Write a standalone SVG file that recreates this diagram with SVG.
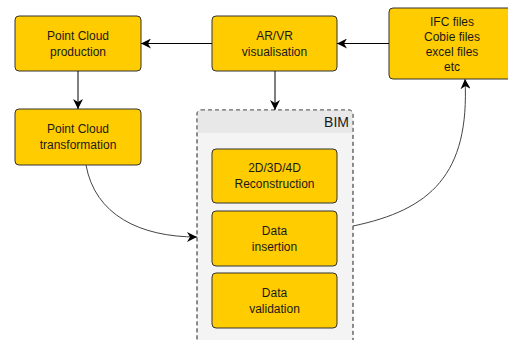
<svg xmlns="http://www.w3.org/2000/svg" width="508" height="340" viewBox="0 0 508 340">
<defs>
<style>
.box{fill:#ffcc00;stroke:#333333;stroke-width:1}
.t{font-family:"Liberation Sans",Arial,sans-serif;font-size:12px;fill:#1a1a1a;text-anchor:middle}
.c{fill:none;stroke:#000000;stroke-width:1}
.cg{fill:none;stroke:#444444;stroke-width:1}
</style>
<marker id="ah" viewBox="0 0 10 10" refX="10" refY="5" markerWidth="10" markerHeight="10" markerUnits="userSpaceOnUse" orient="auto">
<path d="M0,0 L10,5 L0,10 L3,5 Z" fill="#000"/>
</marker>
</defs>
<rect width="508" height="340" fill="#ffffff"/>
<g id="bim">
<rect x="197" y="110" width="156" height="240" rx="4" fill="#f4f4f4" stroke="#666666" stroke-dasharray="4 3"/>
<path d="M197.5,133 V114 a4,4 0 0 1 4,-4 H348.5 a4,4 0 0 1 4,4 V133 Z" fill="#e8e8e8"/>
<rect x="197" y="110" width="156" height="240" rx="4" fill="none" stroke="#666666" stroke-dasharray="4 3"/>
<text x="349" y="127" font-family="Liberation Sans,Arial,sans-serif" font-size="14" fill="#1a1a1a" text-anchor="end">BIM</text>
</g>
<g id="pc-production">
<rect class="box" x="15" y="16" width="126" height="55" rx="4"/>
<text class="t" x="78" y="40">Point Cloud</text>
<text class="t" x="78" y="56">production</text>
</g>
<g id="pc-transformation">
<rect class="box" x="15" y="109" width="126" height="56" rx="4"/>
<text class="t" x="78" y="133">Point Cloud</text>
<text class="t" x="78" y="149">transformation</text>
</g>
<g id="arvr">
<rect class="box" x="212" y="16" width="125" height="55" rx="4"/>
<text class="t" x="274.5" y="40">AR/VR</text>
<text class="t" x="274.5" y="56">visualisation</text>
</g>
<g id="ifc">
<rect class="box" x="389" y="8" width="126" height="71" rx="4"/>
<text class="t" x="452" y="26">IFC files</text>
<text class="t" x="452" y="41">Cobie files</text>
<text class="t" x="452" y="56">excel files</text>
<text class="t" x="452" y="71">etc</text>
</g>
<g id="reconstruction">
<rect class="box" x="212" y="149" width="125" height="54" rx="4"/>
<text class="t" x="274.5" y="172">2D/3D/4D</text>
<text class="t" x="274.5" y="188">Reconstruction</text>
</g>
<g id="insertion">
<rect class="box" x="212" y="211" width="125" height="55" rx="4"/>
<text class="t" x="274.5" y="235">Data</text>
<text class="t" x="274.5" y="251">insertion</text>
</g>
<g id="validation">
<rect class="box" x="212" y="273" width="125" height="55" rx="4"/>
<text class="t" x="274.5" y="297">Data</text>
<text class="t" x="274.5" y="313">validation</text>
</g>
<g id="connectors">
<path class="c" d="M212,43.5 H141" marker-end="url(#ah)"/>
<path class="c" d="M389,43.5 H337" marker-end="url(#ah)"/>
<path class="c" d="M78,71 V109" marker-end="url(#ah)"/>
<path class="c" d="M275,71 V110" marker-end="url(#ah)"/>
<path class="cg" d="M86,165 C95,215 140,237 197,237" marker-end="url(#ah)"/>
<path class="cg" d="M353,226 C430,210 470,175 465,79" marker-end="url(#ah)"/>
</g>
</svg>
